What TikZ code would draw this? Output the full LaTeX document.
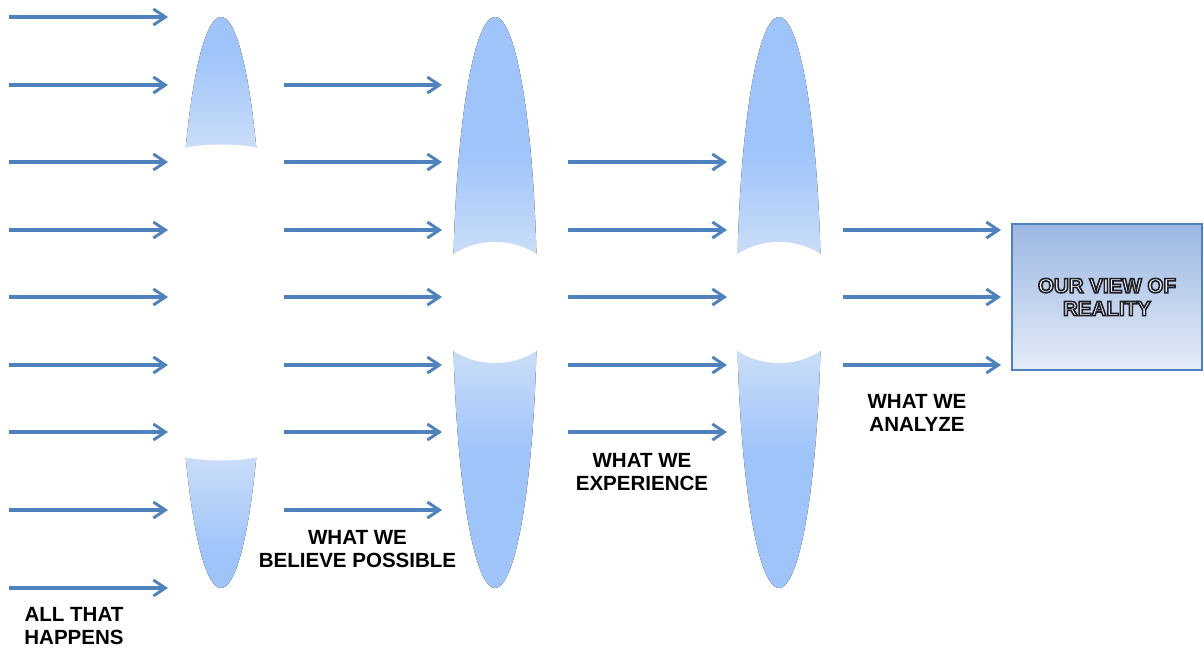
\documentclass[tikz,border=0pt]{standalone}
\usepackage{fontspec}
\setmainfont{Liberation Sans}
\usetikzlibrary{arrows.meta}
\definecolor{arrowblue}{RGB}{79,129,189}
\definecolor{lensblue}{RGB}{158,196,250}
\definecolor{lenslight}{RGB}{202,221,248}
\definecolor{boxtop}{RGB}{155,183,227}
\definecolor{boxbottom}{RGB}{229,236,247}

% blue at both ends, pale round the gap
\pgfdeclareverticalshading{widegap}{100bp}{color(0bp)=(lensblue); color(28bp)=(lensblue); color(36.4bp)=(lenslight); color(63.6bp)=(lenslight); color(72bp)=(lensblue); color(100bp)=(lensblue)}
\pgfdeclareverticalshading{narrowgap}{100bp}{color(0bp)=(lensblue); color(36.6bp)=(lensblue); color(45.75bp)=(lenslight); color(54.25bp)=(lenslight); color(63.4bp)=(lensblue); color(100bp)=(lensblue)}

\tikzset{
	flow/.style = {draw = arrowblue, line width = 3pt, -{Straight Barb[length = 9pt, width = 12pt, line width = 2.2pt]}},
	stagetext/.style = {align = center, font = \fontsize{15.4}{17.2}\selectfont\bfseries},
	reality box/.style = {draw = arrowblue, line width = 1.5pt, top color = boxtop, bottom color = boxbottom, minimum width = 142.5pt, minimum height = 109.5pt, inner sep = 0pt}
}

% white letters with a dark rim
\newcommand{\rimmed}[1]{\special{pdf:literal direct 2 Tr 1.2 w 0.12 0.12 0.16 RG}#1\special{pdf:literal direct 0 Tr}}

% lens: centre x, shading, white gap radii
\newcommand{\lens}[4]{%
	\fill[shading = #2] (#1,302.5) ellipse [x radius = 31.5pt, y radius = 214.1pt];
	\fill[white] (#1,302.5) ellipse [x radius = #3, y radius = #4];}

\begin{document}
\begin{tikzpicture}[x = 0.75pt, y = -0.75pt]
	\useasboundingbox (0,0) rectangle (1204,647);
	% lenses
	\lens{221}{widegap}{135pt}{118.5pt}
	\lens{495}{narrowgap}{51.75pt}{45.4pt}
	\lens{779}{narrowgap}{51.75pt}{45.4pt}
	% result box
	\node (reality) [reality box] at (1107,297) {};
	\node (realitytext) [stagetext, text = white] at (reality.center) {\rimmed{OUR VIEW OF}\\\rimmed{REALITY}};
	% rays
	\foreach \y in {17,85,162,230,297,365,432,510,588}
		\draw[flow] (9,\y) -- (168,\y);
	\foreach \y in {85,162,230,297,365,432,510}
		\draw[flow] (284,\y) -- (442,\y);
	\foreach \y in {162,230,297,365,432}
		\draw[flow] (568,\y) -- (727,\y);
	\foreach \y in {230,297,365}
		\draw[flow] (843,\y) -- ([xshift = -7.5pt]reality.west |- 0,\y);
	% captions
	\node (happens) [stagetext] at (74,626) {ALL THAT\\HAPPENS};
	\node (believe) [stagetext] at (357.5,549) {WHAT WE\\BELIEVE POSSIBLE};
	\node (experience) [stagetext] at (642,472) {WHAT WE\\EXPERIENCE};
	\node (analyze) [stagetext] at (917,413) {WHAT WE\\ANALYZE};
\end{tikzpicture}
\end{document}
